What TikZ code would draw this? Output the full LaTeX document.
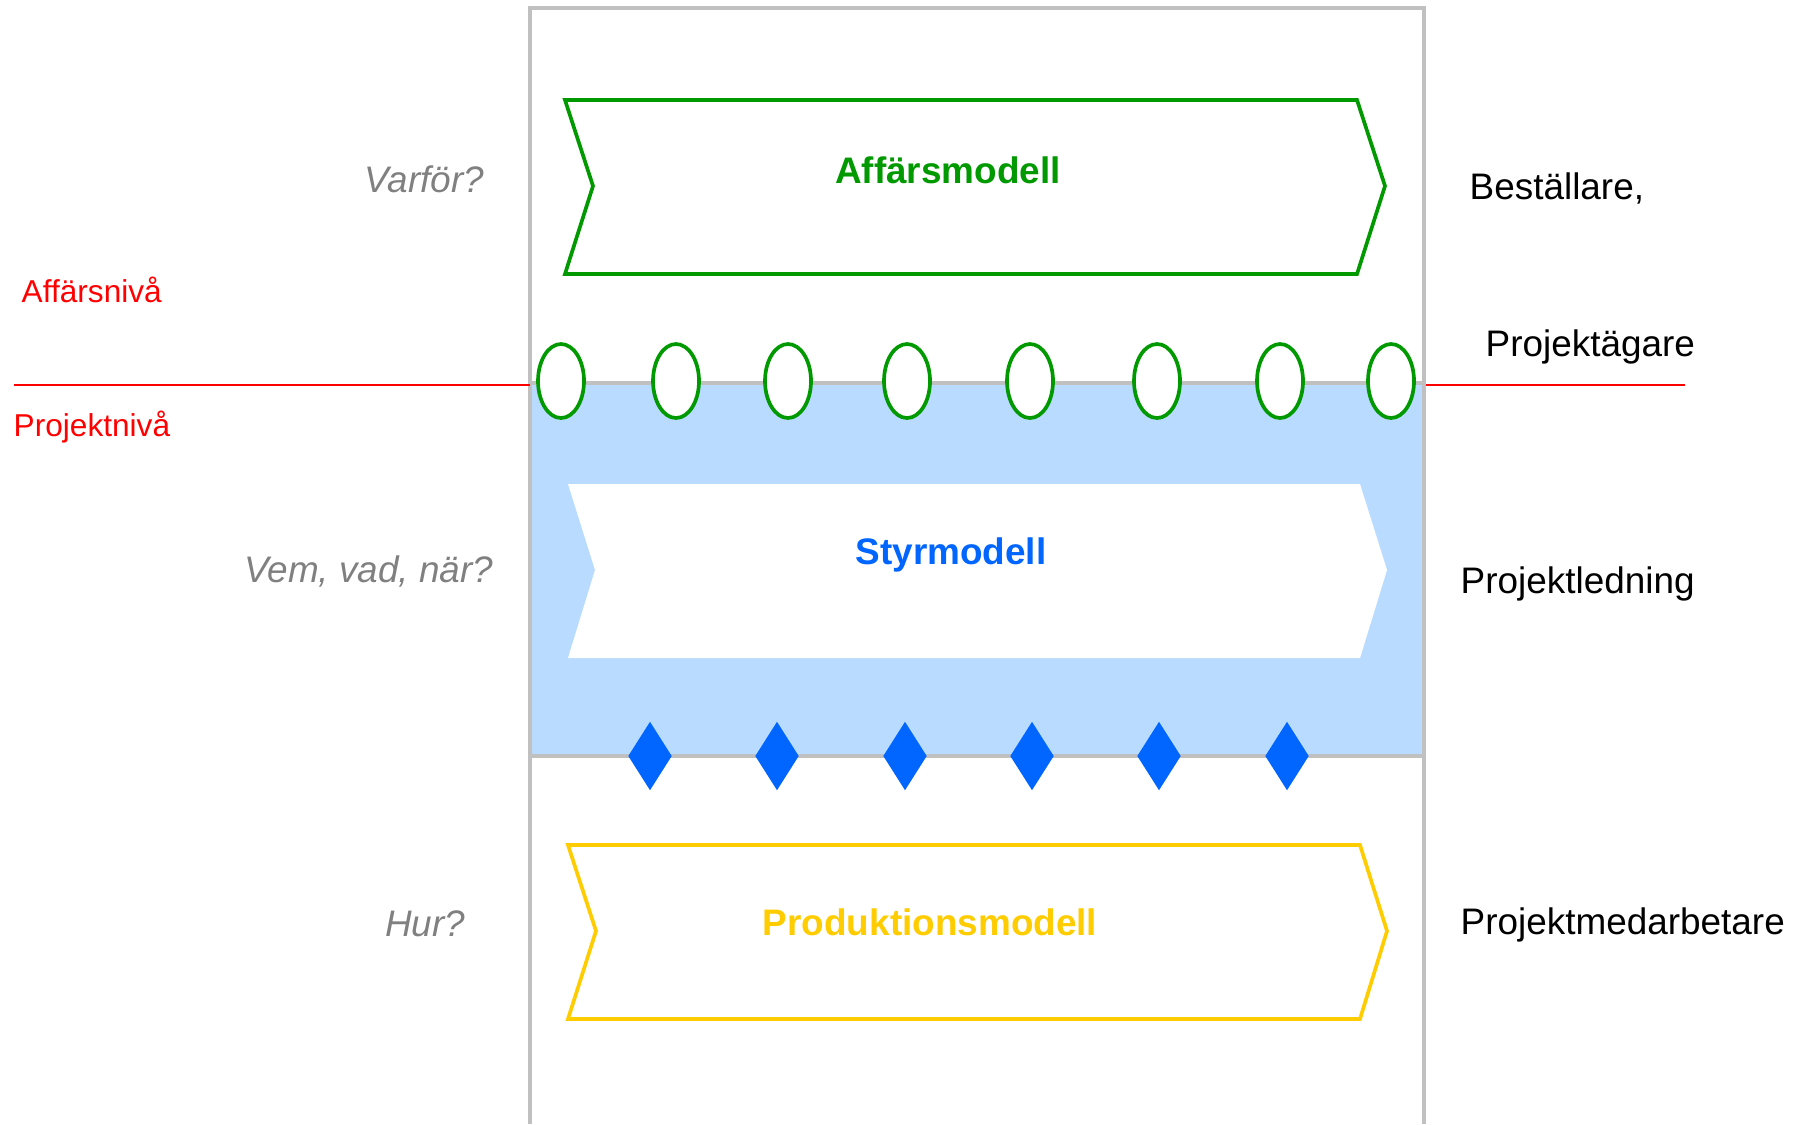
\documentclass[tikz,border=0pt]{standalone}
\usepackage{fontspec}
\setmainfont{Liberation Sans}
\usepackage{xcolor}
\usepackage{tikz}
\usetikzlibrary{shapes.geometric}
\definecolor{modelgreen}{RGB}{0,153,0}
\definecolor{modelblue}{RGB}{0,102,255}
\definecolor{modelyellow}{RGB}{255,204,0}
\definecolor{bandblue}{RGB}{184,219,255}
\definecolor{framegray}{RGB}{192,192,192}
\definecolor{askgray}{RGB}{128,128,128}

\begin{document}
\begin{tikzpicture}[x=0.1mm, y=-0.1mm,
		frameline/.style={draw=framegray, line width=1.1pt},
		chevron/.style={line width=1.05pt, line join=miter},
		gate/.style={ellipse, draw=modelgreen, fill=white, line width=1.05pt,
			minimum width=4.6mm, minimum height=7.4mm, inner sep=0pt},
		milestone/.style={diamond, fill=modelblue, minimum width=4.4mm,
			minimum height=6.9mm, inner sep=0pt},
		modelname/.style={font=\fontsize{10.5}{12}\selectfont\bfseries},
		question/.style={font=\fontsize{10.5}{12}\selectfont\itshape, text=askgray,
			anchor=east, inner sep=0pt},
		role/.style={font=\fontsize{10.5}{12}\selectfont, anchor=west, inner sep=0pt},
		level/.style={font=\fontsize{9}{11}\selectfont, text=red, anchor=west, inner sep=0pt}]
	\useasboundingbox (0,0) rectangle (1803,1124);

	% project band
	\fill[bandblue] (530,383) rectangle (1424,756);
	\draw[frameline] (530,1124) -- (530,8) -- (1424,8) -- (1424,1124);
	\draw[frameline] (530,383) -- (1424,383);
	\draw[frameline] (530,756) -- (1424,756);

	% level divider
	\draw[red, line width=0.5pt] (14,385) -- (530,385);
	\draw[red, line width=0.5pt] (1426,385) -- (1685,385);

	% the three models
	\draw[chevron, draw=modelgreen, fill=white] (565,100) -- (1357,100) -- (1385,186)
		-- (1357,274) -- (565,274) -- (593,186) -- cycle;
	\fill[white] (568,484) -- (1360,484) -- (1387,570) -- (1360,658) -- (568,658)
		-- (595,570) -- cycle;
	\draw[chevron, draw=modelyellow, fill=white] (568,845) -- (1360,845) -- (1387,931)
		-- (1360,1019) -- (568,1019) -- (596,931) -- cycle;

	\node[modelname, text=modelgreen] (busmodel) at (948,170) {Affärsmodell};
	\node[modelname, text=modelblue] (ctrlmodel) at (951,555) {Styrmodell};
	\node[modelname, text=modelyellow] (prodmodel) at (930,922) {Produktionsmodell};

	% decision points
	\foreach \x [count=\i] in {561,676,788,907,1030,1157,1280,1391}
		\node[gate] (gate\i) at (\x,381) {};
	\foreach \x [count=\i] in {650,777,905,1032,1159,1287}
		\node[milestone] (ms\i) at (\x,756) {};

	% questions
	\node[question] (why) at (485,179) {Varför?};
	\node[question] (who) at (494,571) {Vem, vad, när?};
	\node[question] (how) at (466,924) {Hur?};

	% roles
	\node[role] (client) at (1469,188) {Beställare,};
	\node[role] (owner) at (1485,347) {Projektägare};
	\node[role] (mgmt) at (1460,584) {Projektledning};
	\node[role] (staff) at (1460,925) {Projektmedarbetare};

	% levels
	\node[level] (buslevel) at (21,290) {Affärsnivå};
	\node[level] (projlevel) at (13,427) {Projektnivå};
\end{tikzpicture}
\end{document}
